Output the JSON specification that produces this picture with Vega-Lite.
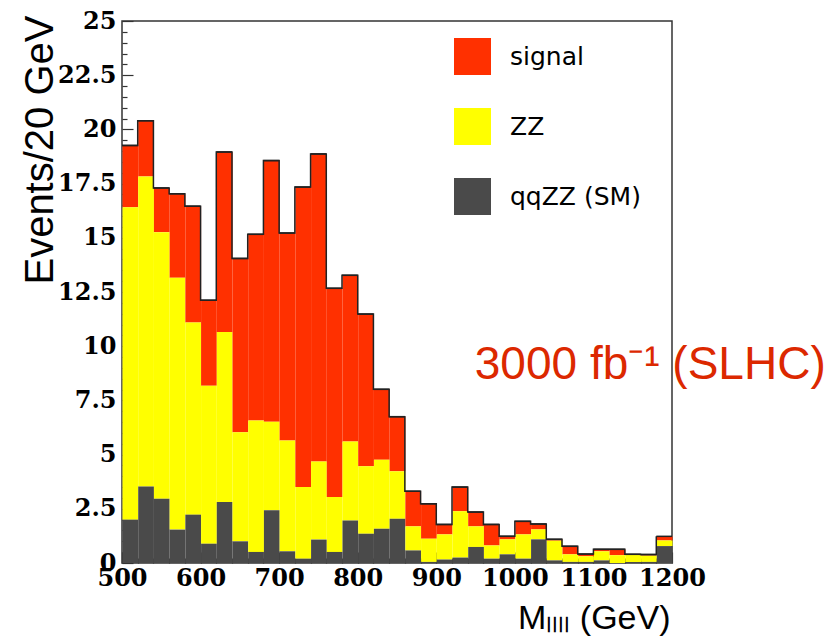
{
  "$schema": "https://vega.github.io/schema/vega-lite/v6.json",
  "width": 550,
  "height": 542,
  "autosize": "none",
  "padding": {"left": 122, "top": 21, "right": 168, "bottom": 77},
  "background": "white",
  "config": {
    "view": {"stroke": "#333333", "strokeWidth": 1.5},
    "axis": {
      "tickColor": "#333333",
      "tickWidth": 1.2,
      "domain": false,
      "grid": false,
      "labelFont": "DejaVu Serif",
      "labelFontWeight": "bold",
      "labelFontSize": 24,
      "labelColor": "black",
      "labelOverlap": false,
      "labelFlush": false,
      "labelBound": false,
      "titleFont": "Liberation Sans",
      "titleFontWeight": "normal",
      "titleColor": "black"
    },
    "axisX": {
      "labelPadding": 14,
      "titleFontSize": 34,
      "titleX": 548,
      "titleY": 65,
      "titleAlign": "right",
      "titleBaseline": "alphabetic"
    },
    "axisY": {
      "labelPadding": 17,
      "titleFontSize": 40,
      "titleAngle": 270,
      "titleX": -70,
      "titleY": -6,
      "titleAlign": "right",
      "titleBaseline": "alphabetic"
    }
  },
  "datasets": {
    "hist": [
      {"lo": 500, "hi": 520, "signal": 2.85, "ZZ": 14.41, "qqZZ": 2.00},
      {"lo": 520, "hi": 540, "signal": 2.57, "ZZ": 14.30, "qqZZ": 3.53},
      {"lo": 540, "hi": 560, "signal": 2.04, "ZZ": 12.30, "qqZZ": 2.96},
      {"lo": 560, "hi": 580, "signal": 3.87, "ZZ": 11.62, "qqZZ": 1.54},
      {"lo": 580, "hi": 600, "signal": 5.37, "ZZ": 8.86, "qqZZ": 2.23},
      {"lo": 600, "hi": 620, "signal": 3.94, "ZZ": 7.29, "qqZZ": 0.89},
      {"lo": 620, "hi": 640, "signal": 8.30, "ZZ": 7.85, "qqZZ": 2.81},
      {"lo": 640, "hi": 660, "signal": 8.02, "ZZ": 5.03, "qqZZ": 1.00},
      {"lo": 660, "hi": 680, "signal": 8.59, "ZZ": 6.06, "qqZZ": 0.51},
      {"lo": 680, "hi": 700, "signal": 12.04, "ZZ": 4.09, "qqZZ": 2.43},
      {"lo": 700, "hi": 720, "signal": 9.57, "ZZ": 5.11, "qqZZ": 0.54},
      {"lo": 720, "hi": 740, "signal": 13.84, "ZZ": 3.30, "qqZZ": 0.20},
      {"lo": 740, "hi": 760, "signal": 14.19, "ZZ": 3.60, "qqZZ": 1.08},
      {"lo": 760, "hi": 780, "signal": 9.63, "ZZ": 2.53, "qqZZ": 0.51},
      {"lo": 780, "hi": 800, "signal": 7.66, "ZZ": 3.65, "qqZZ": 1.96},
      {"lo": 800, "hi": 820, "signal": 7.02, "ZZ": 3.11, "qqZZ": 1.35},
      {"lo": 820, "hi": 840, "signal": 3.25, "ZZ": 3.18, "qqZZ": 1.58},
      {"lo": 840, "hi": 860, "signal": 2.52, "ZZ": 2.19, "qqZZ": 2.04},
      {"lo": 860, "hi": 880, "signal": 1.62, "ZZ": 1.11, "qqZZ": 0.58},
      {"lo": 880, "hi": 900, "signal": 1.61, "ZZ": 1.07, "qqZZ": 0.05},
      {"lo": 900, "hi": 920, "signal": 0.46, "ZZ": 1.16, "qqZZ": 0.16},
      {"lo": 920, "hi": 940, "signal": 1.11, "ZZ": 2.14, "qqZZ": 0.25},
      {"lo": 940, "hi": 960, "signal": 0.66, "ZZ": 0.95, "qqZZ": 0.74},
      {"lo": 960, "hi": 980, "signal": 0.97, "ZZ": 0.61, "qqZZ": 0.20},
      {"lo": 980, "hi": 1000, "signal": 0.14, "ZZ": 0.69, "qqZZ": 0.40},
      {"lo": 1000, "hi": 1020, "signal": 0.60, "ZZ": 1.12, "qqZZ": 0.20},
      {"lo": 1020, "hi": 1040, "signal": 0.25, "ZZ": 0.46, "qqZZ": 1.09},
      {"lo": 1040, "hi": 1060, "signal": 0.06, "ZZ": 0.91, "qqZZ": 0.12},
      {"lo": 1060, "hi": 1080, "signal": 0.37, "ZZ": 0.35, "qqZZ": 0.05},
      {"lo": 1080, "hi": 1100, "signal": 0.10, "ZZ": 0.26, "qqZZ": 0.05},
      {"lo": 1100, "hi": 1120, "signal": 0.09, "ZZ": 0.42, "qqZZ": 0.12},
      {"lo": 1120, "hi": 1140, "signal": 0.27, "ZZ": 0.36, "qqZZ": 0.00},
      {"lo": 1140, "hi": 1160, "signal": 0.03, "ZZ": 0.32, "qqZZ": 0.05},
      {"lo": 1160, "hi": 1180, "signal": 0.05, "ZZ": 0.29, "qqZZ": 0.05},
      {"lo": 1180, "hi": 1200, "signal": 0.19, "ZZ": 0.26, "qqZZ": 0.78}
    ],
    "note": [
      {"lo": 949, "events": 8.5, "label": "3000 fb⁻¹ (SLHC)"}
    ]
  },
  "layer": [
    {
      "data": {"name": "hist"},
      "transform": [
        {"fold": ["signal", "ZZ", "qqZZ"], "as": ["process", "events"]},
        {"calculate": "indexof(['qqZZ','ZZ','signal'], datum.process)", "as": "rank"}
      ],
      "mark": {"type": "bar", "binSpacing": 0},
      "encoding": {
        "x": {
          "field": "lo", "type": "quantitative", "bin": {"binned": true, "step": 20},
          "title": "Mₗₗₗₗ (GeV)",
          "scale": {"domain": [500, 1200], "nice": false, "zero": false},
          "axis": {
            "values": [500,520,540,560,580,600,620,640,660,680,700,720,740,760,780,800,820,840,860,880,900,920,940,960,980,1000,1020,1040,1060,1080,1100,1120,1140,1160,1180,1200],
            "format": "d",
            "labelExpr": "datum.value % 100 === 0 ? datum.label : ''",
            "tickSize": {"condition": {"test": "datum.value % 100 === 0", "value": -11}, "value": -5},
            "labelOverlap": false
          }
        },
        "x2": {"field": "hi"},
        "y": {
          "field": "events", "type": "quantitative", "stack": "zero",
          "title": "Events/20 GeV",
          "scale": {"domain": [0, 25], "nice": false},
          "axis": {
            "values": [0,0.5,1,1.5,2,2.5,3,3.5,4,4.5,5,5.5,6,6.5,7,7.5,8,8.5,9,9.5,10,10.5,11,11.5,12,12.5,13,13.5,14,14.5,15,15.5,16,16.5,17,17.5,18,18.5,19,19.5,20,20.5,21,21.5,22,22.5,23,23.5,24,24.5,25],
            "format": ".1~f",
            "labelExpr": "datum.value % 2.5 === 0 ? datum.label : ''",
            "tickSize": {"condition": {"test": "datum.value % 2.5 === 0", "value": -11}, "value": -5},
            "labelOverlap": false
          }
        },
        "color": {
          "field": "process", "type": "nominal",
          "scale": {"domain": ["signal", "ZZ", "qqZZ"], "range": ["#ff3000", "#ffff00", "#4a4a4a"]},
          "legend": {
            "title": null,
            "orient": "none",
            "legendX": 332,
            "legendY": 17,
            "padding": 0,
            "symbolType": "square",
            "symbolSize": 1369,
            "symbolStrokeWidth": 0,
            "symbolOpacity": 1,
            "labelFont": "DejaVu Sans",
            "labelFontSize": 25,
            "labelColor": "black",
            "labelOffset": 19,
            "rowPadding": 33,
            "labelExpr": "datum.label == 'qqZZ' ? 'qqZZ (SM)' : datum.label"
          }
        },
        "order": {"field": "rank", "type": "quantitative", "sort": "ascending"}
      }
    },
    {
      "data": {"name": "hist"},
      "transform": [
        {"fold": ["signal", "ZZ", "qqZZ"], "as": ["process", "events"]},
        {"aggregate": [{"op": "sum", "field": "events", "as": "events"}], "groupby": ["lo", "hi"]}
      ],
      "mark": {"type": "rule", "color": "#222222", "strokeWidth": 1.5},
      "encoding": {
        "x": {
          "field": "lo", "type": "quantitative", "title": "Mₗₗₗₗ (GeV)",
          "scale": {"domain": [500, 1200], "nice": false, "zero": false},
          "axis": {
            "values": [500,520,540,560,580,600,620,640,660,680,700,720,740,760,780,800,820,840,860,880,900,920,940,960,980,1000,1020,1040,1060,1080,1100,1120,1140,1160,1180,1200],
            "format": "d",
            "labelExpr": "datum.value % 100 === 0 ? datum.label : ''",
            "tickSize": {"condition": {"test": "datum.value % 100 === 0", "value": -11}, "value": -5},
            "labelOverlap": false
          }
        },
        "x2": {"field": "hi"},
        "y": {
          "field": "events", "type": "quantitative", "title": "Events/20 GeV",
          "scale": {"domain": [0, 25], "nice": false},
          "axis": {
            "values": [0,0.5,1,1.5,2,2.5,3,3.5,4,4.5,5,5.5,6,6.5,7,7.5,8,8.5,9,9.5,10,10.5,11,11.5,12,12.5,13,13.5,14,14.5,15,15.5,16,16.5,17,17.5,18,18.5,19,19.5,20,20.5,21,21.5,22,22.5,23,23.5,24,24.5,25],
            "format": ".1~f",
            "labelExpr": "datum.value % 2.5 === 0 ? datum.label : ''",
            "tickSize": {"condition": {"test": "datum.value % 2.5 === 0", "value": -11}, "value": -5},
            "labelOverlap": false
          }
        }
      }
    },
    {
      "data": {"name": "hist"},
      "transform": [
        {"fold": ["signal", "ZZ", "qqZZ"], "as": ["process", "events"]},
        {"aggregate": [{"op": "sum", "field": "events", "as": "events"}], "groupby": ["lo", "hi"]}
      ],
      "mark": {"type": "line", "interpolate": "step-after", "color": "#222222", "strokeWidth": 1.5},
      "encoding": {
        "x": {
          "field": "lo", "type": "quantitative", "title": "Mₗₗₗₗ (GeV)",
          "scale": {"domain": [500, 1200], "nice": false, "zero": false},
          "axis": {
            "values": [500,520,540,560,580,600,620,640,660,680,700,720,740,760,780,800,820,840,860,880,900,920,940,960,980,1000,1020,1040,1060,1080,1100,1120,1140,1160,1180,1200],
            "format": "d",
            "labelExpr": "datum.value % 100 === 0 ? datum.label : ''",
            "tickSize": {"condition": {"test": "datum.value % 100 === 0", "value": -11}, "value": -5},
            "labelOverlap": false
          }
        },
        "y": {
          "field": "events", "type": "quantitative", "title": "Events/20 GeV",
          "scale": {"domain": [0, 25], "nice": false},
          "axis": {
            "values": [0,0.5,1,1.5,2,2.5,3,3.5,4,4.5,5,5.5,6,6.5,7,7.5,8,8.5,9,9.5,10,10.5,11,11.5,12,12.5,13,13.5,14,14.5,15,15.5,16,16.5,17,17.5,18,18.5,19,19.5,20,20.5,21,21.5,22,22.5,23,23.5,24,24.5,25],
            "format": ".1~f",
            "labelExpr": "datum.value % 2.5 === 0 ? datum.label : ''",
            "tickSize": {"condition": {"test": "datum.value % 2.5 === 0", "value": -11}, "value": -5},
            "labelOverlap": false
          }
        }
      }
    },
    {
      "data": {"name": "note"},
      "mark": {"type": "text", "align": "left", "baseline": "alphabetic", "font": "Liberation Sans", "fontSize": 46, "color": "#dc2800"},
      "encoding": {
        "x": {
          "field": "lo", "type": "quantitative", "title": "Mₗₗₗₗ (GeV)",
          "scale": {"domain": [500, 1200], "nice": false, "zero": false},
          "axis": {
            "values": [500,520,540,560,580,600,620,640,660,680,700,720,740,760,780,800,820,840,860,880,900,920,940,960,980,1000,1020,1040,1060,1080,1100,1120,1140,1160,1180,1200],
            "format": "d",
            "labelExpr": "datum.value % 100 === 0 ? datum.label : ''",
            "tickSize": {"condition": {"test": "datum.value % 100 === 0", "value": -11}, "value": -5},
            "labelOverlap": false
          }
        },
        "y": {
          "field": "events", "type": "quantitative", "title": "Events/20 GeV",
          "scale": {"domain": [0, 25], "nice": false},
          "axis": {
            "values": [0,0.5,1,1.5,2,2.5,3,3.5,4,4.5,5,5.5,6,6.5,7,7.5,8,8.5,9,9.5,10,10.5,11,11.5,12,12.5,13,13.5,14,14.5,15,15.5,16,16.5,17,17.5,18,18.5,19,19.5,20,20.5,21,21.5,22,22.5,23,23.5,24,24.5,25],
            "format": ".1~f",
            "labelExpr": "datum.value % 2.5 === 0 ? datum.label : ''",
            "tickSize": {"condition": {"test": "datum.value % 2.5 === 0", "value": -11}, "value": -5},
            "labelOverlap": false
          }
        },
        "text": {"field": "label"}
      }
    }
  ]
}
